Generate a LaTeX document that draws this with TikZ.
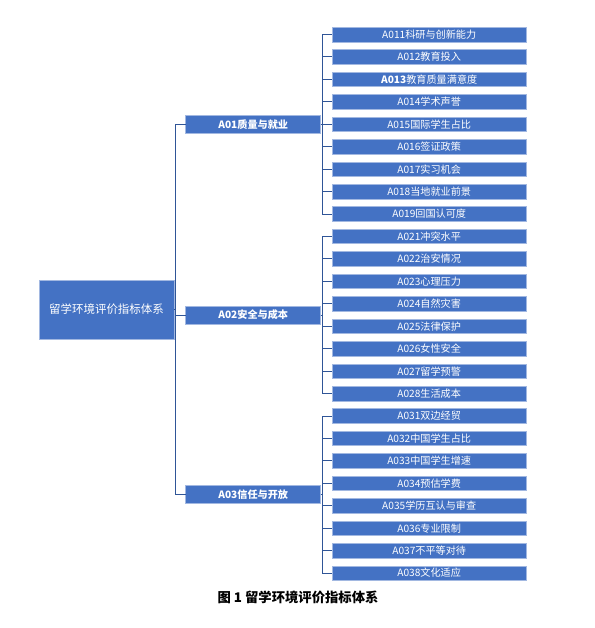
\documentclass[tikz,border=0pt]{standalone}
\usepackage{fontspec}
\setmainfont{Noto Sans CJK SC}
\usetikzlibrary{positioning}
\definecolor{boxblue}{HTML}{4472C4}
\definecolor{lineblue}{HTML}{2F5597}

\begin{document}
\begin{tikzpicture}[%
    x=0.75pt,
    y=-0.75pt,
    node distance=5.93pt,
    box/.style={%
      rectangle,
      fill=boxblue,
      draw=boxblue!50!white,
      line width=0.4pt,
      outer sep=0pt,
      inner sep=0pt,
      text=white
    },
    rootbox/.style={box, minimum width=101.25pt, minimum height=44.25pt, font=\fontsize{8.6}{10}\selectfont},
    groupbox/.style={box, minimum width=101.25pt, minimum height=13.7pt, font=\fontsize{7.6}{9}\selectfont\bfseries},
    leafbox/.style={box, minimum width=145.5pt, minimum height=10.9pt, font=\fontsize{7.6}{9}\selectfont},
    link/.style={draw=lineblue, line width=0.7pt}
  ]
    \useasboundingbox (0,0) rectangle (594,628);

    \node[rootbox] (root) at (106.5,309.5)                {留学环境评价指标体系};

    \node[groupbox] (a01) at (253.2,124.3)               {A01质量与就业};
    \node[groupbox] (a02) at (253.2,315)                 {A02安全与成本};
    \node[groupbox] (a03) at (253.2,494.5)               {A03信任与开放};

    \node[leafbox] (a011) at (429.2,34.5)                {A011科研与创新能力};
    \node[leafbox] (a012) [below=of a011]                {A012教育投入};
    \node[leafbox] (a013) [below=of a012]                {\textbf{A013}教育质量满意度};
    \node[leafbox] (a014) [below=of a013]                {A014学术声誉};
    \node[leafbox] (a015) [below=of a014]                {A015国际学生占比};
    \node[leafbox] (a016) [below=of a015]                {A016签证政策};
    \node[leafbox] (a017) [below=of a016]                {A017实习机会};
    \node[leafbox] (a018) [below=of a017]                {A018当地就业前景};
    \node[leafbox] (a019) [below=of a018]                {A019回国认可度};
    \node[leafbox] (a021) [below=of a019]                {A021冲突水平};
    \node[leafbox] (a022) [below=of a021]                {A022治安情况};
    \node[leafbox] (a023) [below=of a022]                {A023心理压力};
    \node[leafbox] (a024) [below=of a023]                {A024自然灾害};
    \node[leafbox] (a025) [below=of a024]                {A025法律保护};
    \node[leafbox] (a026) [below=of a025]                {A026女性安全};
    \node[leafbox] (a027) [below=of a026]                {A027留学预警};
    \node[leafbox] (a028) [below=of a027]                {A028生活成本};
    \node[leafbox] (a031) [below=of a028]                {A031双边经贸};
    \node[leafbox] (a032) [below=of a031]                {A032中国学生占比};
    \node[leafbox] (a033) [below=of a032]                {A033中国学生增速};
    \node[leafbox] (a034) [below=of a033]                {A034预估学费};
    \node[leafbox] (a035) [below=of a034]                {A035学历互认与审查};
    \node[leafbox] (a036) [below=of a035]                {A036专业限制};
    \node[leafbox] (a037) [below=of a036]                {A037不平等对待};
    \node[leafbox] (a038) [below=of a037]                {A038文化适应};

    \node (caption) at (298,597) {\fontsize{10}{12}\selectfont\bfseries 图 1 留学环境评价指标体系};

    % bus lines
    \coordinate (rootbus) at (175.7,0);
    \coordinate (leafbus) at (322.7,0);

    \draw[link] (root.east) -- (root.east -| rootbus);
    \draw[link] (a01.west) -- (a01.west -| rootbus) -- (a03.west -| rootbus) -- (a03.west);
    \draw[link] (a02.west) -- (a02.west -| rootbus);

    \draw[link] (a011.west) -- (a011.west -| leafbus) -- (a019.west -| leafbus) -- (a019.west);
    \draw[link] (a021.west) -- (a021.west -| leafbus) -- (a028.west -| leafbus) -- (a028.west);
    \draw[link] (a031.west) -- (a031.west -| leafbus) -- (a038.west -| leafbus) -- (a038.west);
    \foreach \n in {a012,a013,a014,a015,a016,a017,a018,
                    a022,a023,a024,a025,a026,a027,
                    a032,a033,a034,a035,a036,a037}
      \draw[link] (\n.west) -- (\n.west -| leafbus);
    \foreach \n in {a01,a02,a03}
      \draw[link] (\n.east) -- (\n.east -| leafbus);
 \end{tikzpicture}
\end{document}
